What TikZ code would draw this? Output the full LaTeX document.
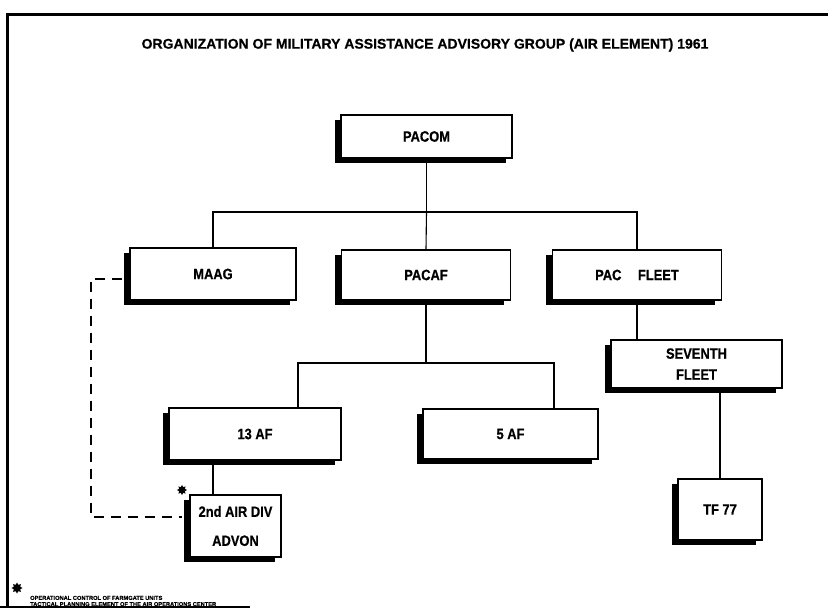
\documentclass[tikz,border=0pt]{standalone}
\usepackage{fontspec}
\setmainfont{Liberation Sans}[BoldFeatures={FakeBold=0.5}]
\newfontfamily\condfont{Liberation Sans}[FakeStretch=0.86, BoldFeatures={FakeBold=0.6}]
\usetikzlibrary{shapes.geometric}
\tikzset{
  orgbox/.style={draw=black, line width=1.4pt, fill=white, rectangle, inner sep=0pt,
    align=center, font=\condfont\bfseries\fontsize{15}{21}\selectfont,
    preaction={fill=black, transform canvas={xshift=-6.5pt,yshift=-5pt}}},
  link/.style={draw=black, line width=1.1pt},
  dotlink/.style={draw=black, line width=1.2pt, dash pattern=on 10pt off 7pt},
  mark star/.style={star, star points=8, star point ratio=1.6, fill=black, inner sep=0pt},
  frame/.style={draw=black, line width=3pt}
}
\begin{document}
\begin{tikzpicture}[x=1pt,y=-1pt]
\useasboundingbox (0,0) rectangle (828,613);
\fill[white] (0,0) rectangle (828,613);
% frame
\coordinate (fa) at (7,607);
\coordinate (fb) at (7,14);
\coordinate (fc) at (828,14);
\coordinate (fd) at (0,607);
\coordinate (fe) at (250,607);
\draw[frame] (fa) -- (fb) -- (fc);
\draw[black, line width=1.6pt] (fd) -- (fe);
% title
\node[font=\bfseries\fontsize{14}{16}\selectfont] (title) at (425,45)
  {ORGANIZATION OF MILITARY ASSISTANCE ADVISORY GROUP (AIR ELEMENT) 1961};
% boxes
\node[orgbox, minimum width=171pt, minimum height=43pt] (pacom) at (426.5,136.5) {PACOM};
\node[orgbox, minimum width=166pt, minimum height=52pt] (maag) at (213,274) {MAAG};
\node[orgbox, minimum width=169pt, minimum height=50pt] (pacaf) at (426,275) {PACAF};
\node[orgbox, minimum width=169pt, minimum height=50pt] (pacfleet) at (637,275) {PAC\hspace{1.1em}FLEET};
\node[orgbox, minimum width=171pt, minimum height=48pt] (seventh) at (696.5,364) {SEVENTH\\FLEET};
\node[orgbox, minimum width=172pt, minimum height=52pt] (af13) at (255,434) {13 AF};
\node[orgbox, minimum width=175pt, minimum height=50pt] (af5) at (510.5,434) {5 AF};
\node[orgbox, minimum width=91pt, minimum height=62pt] (airdiv) at (235.5,526) {2nd AIR DIV\\[8pt]ADVON};
\node[orgbox, minimum width=84pt, minimum height=61pt] (tf77) at (720,509.5) {TF 77};
% connectors
\coordinate (j1) at (426.5,212);
\coordinate (j2) at (426,363);
\draw[link] (pacom.south) -- (j1);
\draw[link] (j1) -- (pacaf.north);
\draw[link] (maag.north) |- (j1) -| (pacfleet.north);
\draw[link] (pacaf.south) -- (j2);
\draw[link] ([xshift=43pt]af13.north) |- (j2) -| ([xshift=43.5pt]af5.north);
\draw[link] ([xshift=-42pt]af13.south) -- ([xshift=-22.5pt]airdiv.north);
\draw[link] (pacfleet.south) -- ([xshift=-59.5pt]seventh.north);
\draw[link] ([xshift=23.5pt]seventh.south) -- (tf77.north);
% dashed line of operational control
\coordinate (dk) at (91,279);
\draw[dotlink] ([xshift=-7pt,yshift=-5pt]maag.west) -- (dk) |- ([xshift=-7pt,yshift=9pt]airdiv.west);
% asterisks
\node[mark star, minimum size=10pt] (ast1) at (182,490) {};
\node[mark star, minimum size=11pt] (ast2) at (17,588) {};
% footnote
\node[anchor=west, font=\bfseries\fontsize{5.7}{6.2}\selectfont, align=left, inner sep=0pt] (foot) at (30,601)
  {OPERATIONAL CONTROL OF FARMGATE UNITS\\TACTICAL PLANNING ELEMENT OF THE AIR OPERATIONS CENTER};
\end{tikzpicture}
\end{document}
